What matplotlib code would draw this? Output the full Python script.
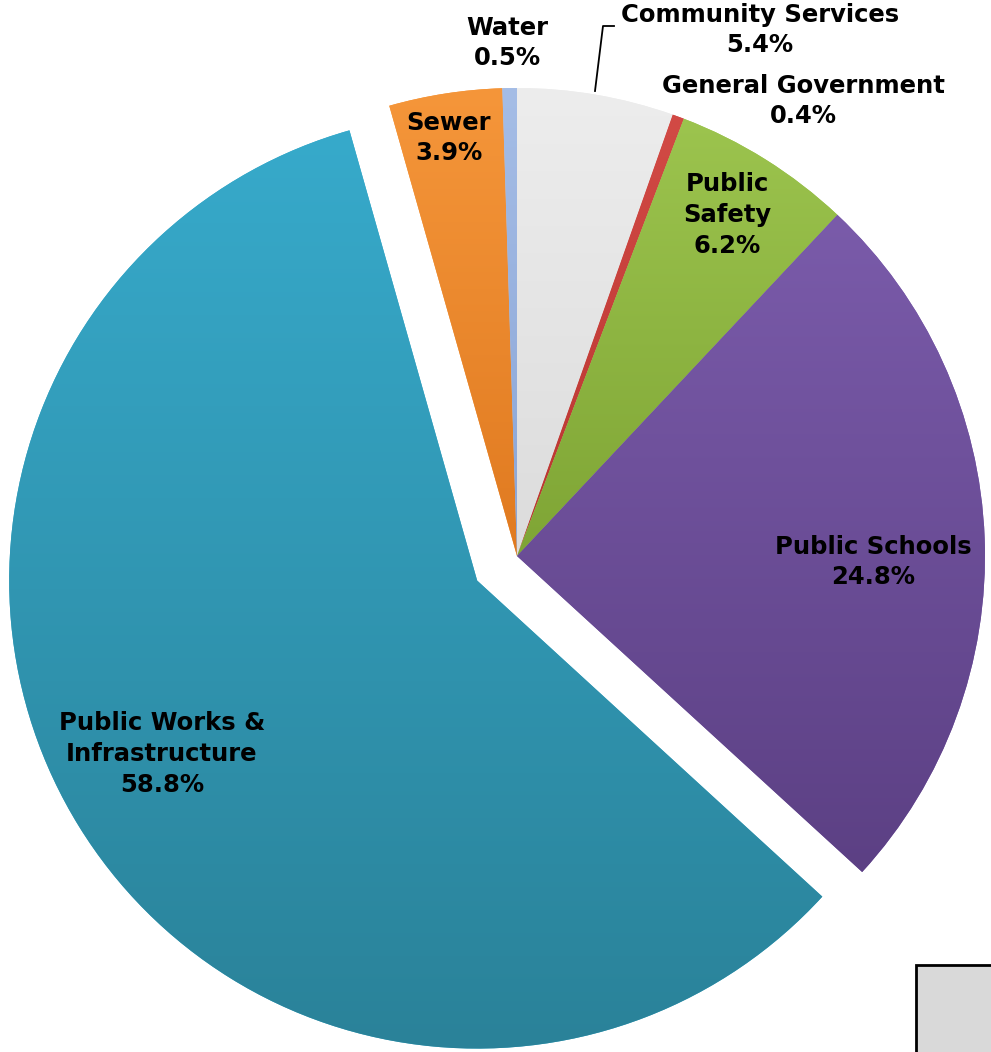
import matplotlib
matplotlib.use('Agg')
import matplotlib.pyplot as plt
import numpy as np
from matplotlib.colors import to_rgb
from matplotlib.patches import Rectangle

# ---- data ----
categories = ["Community Services", "General Government", "Public Safety",
              "Public Schools", "Public Works &\nInfrastructure", "Sewer", "Water"]
shares = [5.4, 0.4, 6.2, 24.8, 58.8, 3.9, 0.5]
label_text = ["Community Services\n5.4%", "General Government\n0.4%", "Public\nSafety\n6.2%",
              "Public Schools\n24.8%", "Public Works &\nInfrastructure\n58.8%", "Sewer\n3.9%",
              "Water\n0.5%"]
explode = [0, 0, 0, 0, 0.1, 0, 0]
colors_top = ["#EDEDED", "#D24A45", "#9CC44E", "#7A5BAA", "#37AACB", "#F5963A", "#A5BDE6"]
colors_bot = ["#DCDCDC", "#B83530", "#7FA535", "#5C4084", "#2A8299", "#E07A20", "#8AA5D6"]

W, H = 991, 1052
CX, CY, R = 517, 556, 468

def px(x, y):
    return ((x - CX) / R, (CY - y) / R)

fig = plt.figure(figsize=(W / 100, H / 100), dpi=100)
ax = fig.add_axes([0, 0, 1, 1])

wedges, _ = ax.pie(shares, explode=explode, startangle=90, counterclock=False,
                   colors=colors_top, radius=1, center=(0, 0),
                   wedgeprops=dict(linewidth=0))

grad = np.linspace(0, 1, 256)[:, None, None]
for w, ct, cb in zip(wedges, colors_top, colors_bot):
    ct = np.array(to_rgb(ct)); cb = np.array(to_rgb(cb))
    img = ct * (1 - grad) + cb * grad
    bb = w.get_path().get_extents()
    im = ax.imshow(img, extent=(bb.x0, bb.x1, bb.y0, bb.y1), origin='upper',
                   aspect='auto', zorder=1.5, interpolation='bilinear')
    im.set_clip_path(w)

# labels (positions in pixel coords of the reference)
label_pos = [(760, 30), (803, 101), (727, 215), (873, 562), (162, 754), (449, 138), (507, 43)]
for txt, (x, y) in zip(label_text, label_pos):
    ax.text(*px(x, y), txt, ha='center', va='center', fontsize=17.5, fontweight='bold',
            family='DejaVu Sans', linespacing=1.35, color='black', zorder=5)

# leader line for Community Services
lx, ly = zip(px(595, 91), px(603, 26), px(614, 26))
ax.plot(lx, ly, color='black', lw=1.3, zorder=5)

# partial grey box at bottom right
x0, y0 = px(916, 1070)
ax.add_patch(Rectangle((x0, y0), (1010 - 916) / R, (1070 - 965) / R,
                       facecolor='#D9D9D9', edgecolor='black', lw=2, zorder=4))

ax.set_aspect('auto')
ax.set_xlim(px(0, 0)[0], px(W, 0)[0])
ax.set_ylim(px(0, H)[1], px(0, 0)[1])
ax.axis('off')
fig.savefig('out.png', dpi=100)
